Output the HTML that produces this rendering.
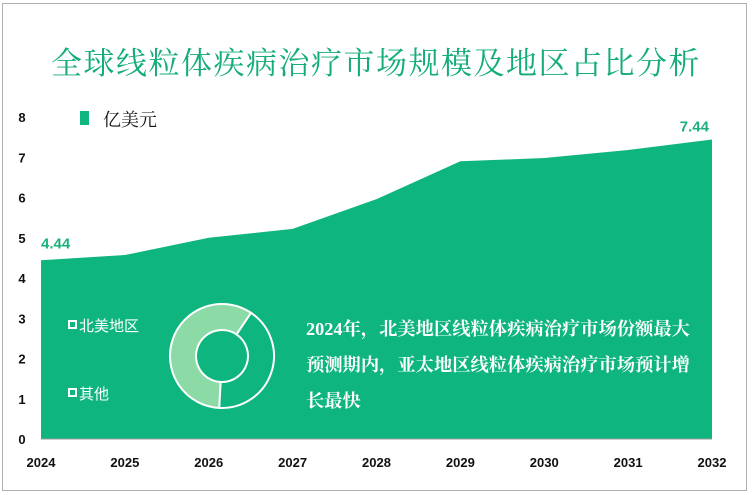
<!DOCTYPE html>
<html><head><meta charset="utf-8"><style>
body{margin:0;width:752px;height:495px;background:#fff;overflow:hidden;font-family:"Liberation Sans","Noto Sans CJK SC",sans-serif}
#frame{position:absolute;left:2px;top:3px;width:745px;height:488px;border:1.5px solid #b0b0b0;box-sizing:border-box}
#title{position:absolute;left:0;width:752px;top:38px;text-align:center;font-family:"Liberation Serif","Noto Serif CJK SC",serif;font-size:31px;letter-spacing:1.5px;color:#14ad78}
</style></head><body>
<div id="frame"></div>
<div id="title">全球线粒体疾病治疗市场规模及地区占比分析</div>
<svg id="chart" width="752" height="495" style="position:absolute;left:0;top:0"></svg>
<script>
const years=["2024","2025","2026","2027","2028","2029","2030","2031","2032"];
const values=[4.44,4.57,5.0,5.22,5.96,6.9,6.98,7.18,7.44];
const yTicks=[0,1,2,3,4,5,6,7,8];
const shareLabels=["北美地区","其他"];
const shares=[58.6,41.4];
const NS="http://www.w3.org/2000/svg";
const svg=document.getElementById('chart');
const x=i=>41+i*(712-41)/(years.length-1);
const y=v=>439-v*(439-117)/8;
function mk(t,a){const e=document.createElementNS(NS,t);for(const k in a)e.setAttribute(k,a[k]);svg.appendChild(e);return e;}
let d="M"+x(0)+","+y(0);
values.forEach((v,i)=>d+=" L"+x(i)+","+y(v));
d+=" L"+x(values.length-1)+","+y(0)+" Z";
const area=mk('path',{d:d,fill:'#0fb57f'});


const base=mk('line',{x1:x(0),x2:x(8),y1:y(0),y2:y(0),stroke:'#999','stroke-width':1});


yTicks.forEach(t=>{const e=mk('text',{x:22,y:y(t)+5,'text-anchor':'middle','font-size':13,'font-weight':'bold',fill:'#111'});e.textContent=t;

});
years.forEach((yr,i)=>{const e=mk('text',{x:x(i),y:467,'text-anchor':'middle','font-size':13,'font-weight':'bold',fill:'#111'});e.textContent=yr;

});
const l1=mk('text',{x:x(0),y:y(values[0])-12,'font-size':15,'font-weight':'bold',fill:'#1ab07a'});l1.textContent=values[0].toFixed(2);


const l2=mk('text',{x:x(8)-3,y:y(values[8])-8,'text-anchor':'end','font-size':15,'font-weight':'bold',fill:'#1ab07a'});l2.textContent=values[8].toFixed(2);


const lg=mk('rect',{x:80,y:111,width:9,height:14,fill:'#0fb57f'});


const lt=mk('text',{x:103,y:126,'font-size':18,fill:'#111','font-family':'Liberation Serif,Noto Serif CJK SC,serif'});lt.textContent="亿美元";


const cx=222,cy=356,R=52,r=26;
const colors=['#8cdba6','#0fb57f'];
let a0=(183-90)*Math.PI/180;
shares.forEach((s,i)=>{const a1=a0+s/100*2*Math.PI;const lg2=s>50?1:0;
const p=`M${cx+R*Math.cos(a0)},${cy+R*Math.sin(a0)} A${R},${R} 0 ${lg2} 1 ${cx+R*Math.cos(a1)},${cy+R*Math.sin(a1)} L${cx+r*Math.cos(a1)},${cy+r*Math.sin(a1)} A${r},${r} 0 ${lg2} 0 ${cx+r*Math.cos(a0)},${cy+r*Math.sin(a0)} Z`;
const e=mk('path',{d:p,fill:colors[i],stroke:'#fff','stroke-width':2});


a0=a1;});
shareLabels.forEach((s,i)=>{const yy=i==0?325:393;
const b=mk('rect',{x:69,y:yy-4,width:7,height:7,fill:'#0fb57f',stroke:'#fff','stroke-width':2});


const t=mk('text',{x:79,y:yy+6,'font-size':15,fill:'#fff'});t.textContent=s;

});
const lines=["2024年，北美地区线粒体疾病治疗市场份额最大","预测期内，亚太地区线粒体疾病治疗市场预计增","长最快"];
lines.forEach((s,i)=>{const t=mk('text',{x:306,y:335+i*36,'font-size':18.3,'font-weight':'bold',fill:'#fff','font-family':'Liberation Serif,Noto Serif CJK SC,serif'});t.textContent=s;

});
</script>
</body></html>
